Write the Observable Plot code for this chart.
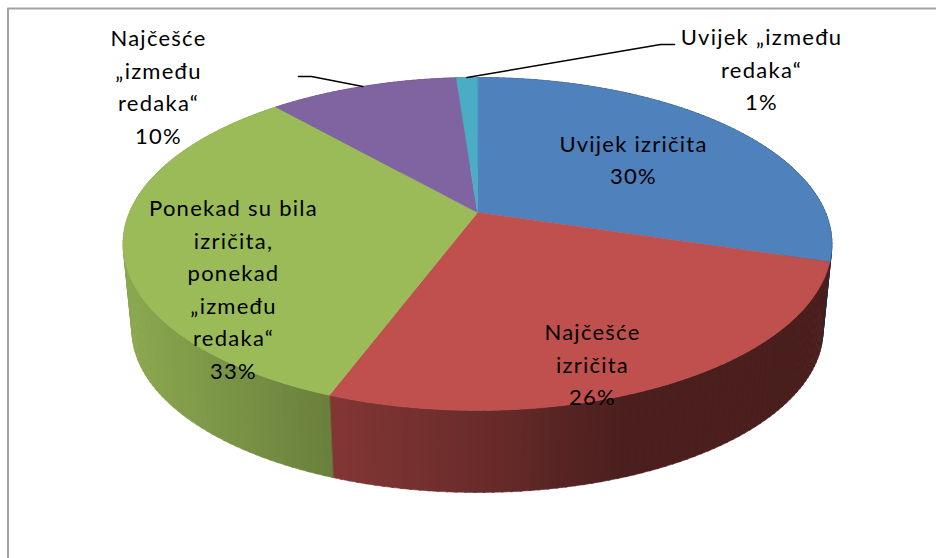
<!DOCTYPE html>
<html>
<head>
<meta charset="utf-8">
<script src="https://cdn.jsdelivr.net/npm/d3@7"></script>
<script src="https://cdn.jsdelivr.net/npm/@observablehq/plot@0.6"></script>
<style>
html,body{margin:0;padding:0;background:#fff}
svg{display:block}
</style>
</head>
<body>
<div id="chart"></div>
<script>
// --- data ---
const categories = ["Uvijek izričita", "Najčešće izričita", "Ponekad su bila izričita, ponekad „između redaka“", "Najčešće „između redaka“", "Uvijek „između redaka“"];
const shares = [29.7, 26.0, 32.8, 10.35, 1.15];
const labelLines = [
  "Uvijek izričita",
  "Najčešće\nizričita",
  "Ponekad su bila\nizričita,\nponekad\n„između\nredaka“",
  "Najčešće\n„između\nredaka“",
  "Uvijek „između\nredaka“"
];
const colors = ["#4F81BD", "#C0504D", "#9BBB59", "#8064A2", "#4BACC6"];

// --- layout of the 3D projection (pixels in the 936x558 frame) ---
const cx = 477, apexY = 212, R = 348, S = 160.5, k = 0.189;
const baseScale = 0.975, baseY = 299;
const labelX = [633, 592, 233, 158, 761];
const labelY = [157, 362, 286.5, 84, 67];
const leaderEnd = {3: [[311, 76], [298, 76]], 4: [[660, 44], [674, 44]]};
const shadeX = [122, 330, 480, 620, 832];
const shadeK = [0.90, 0.68, 0.55, 0.39, 0.38];
const shade = d3.scaleLinear().domain(shadeX).range(shadeK).clamp(true);

// perspective projection of a point on the unit disc; theta clockwise from the top
function rimTop(theta) {
  const u = Math.sin(theta), v = Math.cos(theta), w = 1 + k * v;
  return [cx + R * u / w, apexY - S * v / w];
}
function rimBottom(theta) {
  const u = Math.sin(theta), v = Math.cos(theta), w = 1 + k * v;
  return [cx + baseScale * R * u / w, baseY - baseScale * S * v / w];
}

const total = d3.sum(shares);
const ends = Array.from(d3.cumsum(shares), c => c / total * 2 * Math.PI);
const starts = ends.map((_, i) => i ? ends[i - 1] : 0);

// top face
const faces = [];
categories.forEach((c, i) => {
  const n = Math.max(4, Math.ceil((ends[i] - starts[i]) * 60));
  faces.push({id: c, color: colors[i], p: [cx, apexY]});
  for (let j = 0; j <= n; j++) {
    faces.push({id: c, color: colors[i], p: rimTop(starts[i] + (ends[i] - starts[i]) * j / n)});
  }
});

// side wall: thin quads with lighting by horizontal position
const wall = [];
categories.forEach((c, i) => {
  const n = Math.max(2, Math.ceil((ends[i] - starts[i]) * 45));
  for (let j = 0; j < n; j++) {
    const a = starts[i] + (ends[i] - starts[i]) * j / n;
    const b = starts[i] + (ends[i] - starts[i]) * (j + 1) / n + 0.004;
    const xm = (rimTop(a)[0] + rimTop(b)[0]) / 2;
    const base = d3.rgb(colors[i]), s = shade(xm);
    const col = d3.rgb(base.r * s, base.g * s, base.b * s).formatHex();
    const id = c + j;
    [rimTop(a), rimTop(b), rimBottom(b), rimBottom(a)].forEach(p => wall.push({id, color: col, p}));
  }
});

// labels
const labels = categories.map((c, i) => ({
  x: labelX[i], y: labelY[i],
  text: labelLines[i] + "\n" + Math.round(shares[i]) + "%"
}));

// leader lines
const leaders = [];
Object.entries(leaderEnd).forEach(([i, pts]) => {
  const mid = (starts[+i] + ends[+i]) / 2;
  [rimTop(mid), ...pts].forEach(p => leaders.push({id: i, p}));
});

const frameLine = [[936, 8], [7.5, 8], [7.5, 558]];

const chart = Plot.plot({
  width: 936,
  height: 558,
  margin: 0,
  style: {background: "#fff", fontFamily: "Lato, Carlito, sans-serif", letterSpacing: "1.25px"},
  x: {domain: [0, 936], range: [0, 936], axis: null},
  y: {domain: [0, 558], range: [0, 558], axis: null},
  color: {type: "identity"},
  marks: [
    Plot.line(frameLine, {x: d => d[0], y: d => d[1], stroke: "#a3a3a3", strokeWidth: 2}),
    Plot.line(wall, {x: d => d.p[0], y: d => d.p[1], z: "id", fill: "color", stroke: "color", strokeWidth: 0.6, curve: "linear-closed"}),
    Plot.line(faces, {x: d => d.p[0], y: d => d.p[1], z: "id", fill: "color", stroke: "color", strokeWidth: 0.6, curve: "linear-closed"}),
    Plot.line(leaders, {x: d => d.p[0], y: d => d.p[1], z: "id", stroke: "#000", strokeWidth: 1.5}),
    Plot.text(labels, {x: "x", y: "y", text: "text", fontSize: 22, lineHeight: 1.48, textAnchor: "middle", lineAnchor: "middle", fill: "#000"})
  ]
});
document.getElementById("chart").appendChild(chart);
</script>
</body>
</html>
